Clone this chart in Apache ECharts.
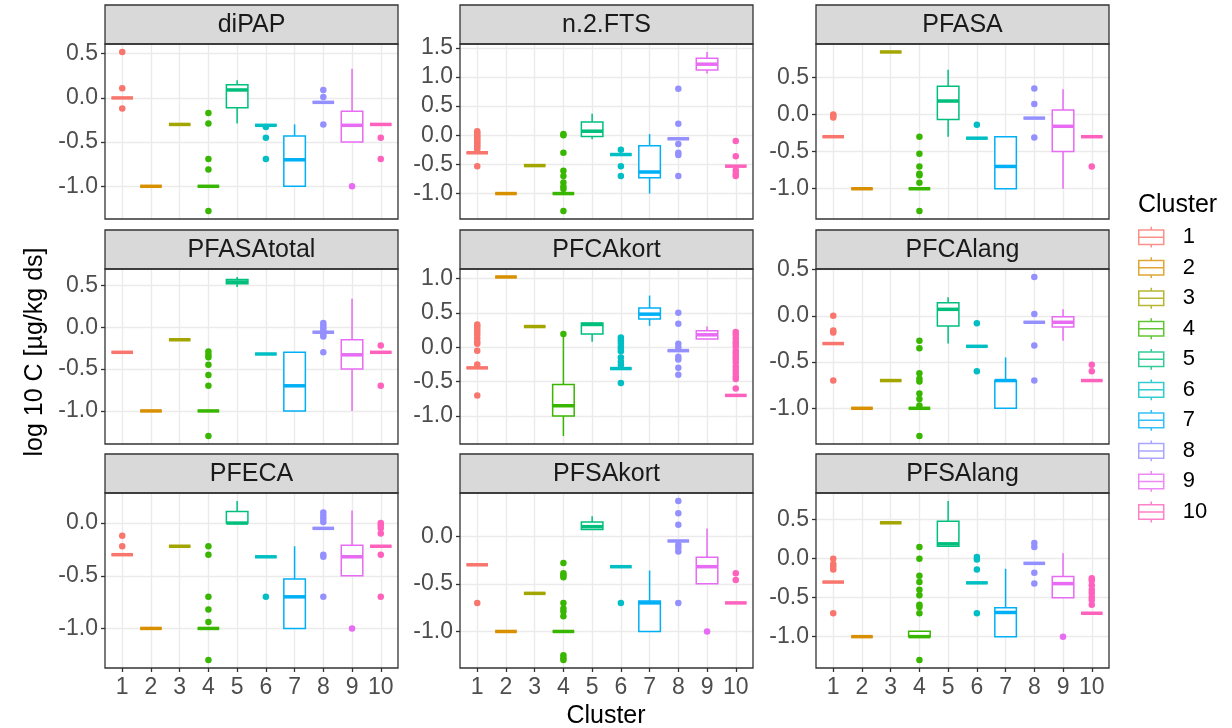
<!DOCTYPE html>
<html><head><meta charset="utf-8">
<script src="https://cdn.jsdelivr.net/npm/echarts@6/dist/echarts.min.js"></script>
<style>html,body{margin:0;padding:0;background:#fff}#c{width:1232px;height:728px}</style>
</head><body><div id="c"></div>
<script>
const CLUSTERS = ['1','2','3','4','5','6','7','8','9','10'];
const COLORS = ['#F8766D','#D89000','#A3A500','#39B600','#00BF7D','#00BFC4','#00B0F6','#9590FF','#E76BF3','#FF62BC'];
const X_TICKS = [1,2,3,4,5,6,7,8,9,10];
const PANEL_NAMES = ['diPAP','n.2.FTS','PFASA','PFASAtotal','PFCAkort','PFCAlang','PFECA','PFSAkort','PFSAlang'];
const X_TITLE = 'Cluster';
const Y_TITLE = 'log 10 C [µg/kg ds]';
const LEGEND_TITLE = 'Cluster';

// boxes: [cluster, lower whisker, Q1, median, Q3, upper whisker]; outliers: [cluster, value]
const diPAP_box = [
 [1,0,0,0,0,0],[2,-1,-1,-1,-1,-1],[3,-0.3,-0.3,-0.3,-0.3,-0.3],[4,-1,-1,-1,-1,-1],
 [5,-0.29,-0.11,0.09,0.15,0.2],[6,-0.31,-0.31,-0.31,-0.31,-0.31],[7,-1,-1,-0.7,-0.43,-0.3],
 [8,-0.05,-0.05,-0.05,-0.05,-0.05],[9,-0.5,-0.5,-0.31,-0.15,0.33],[10,-0.3,-0.3,-0.3,-0.3,-0.3]];
const diPAP_out = [[1,0.52],[1,0.11],[1,-0.12],[4,-0.17],[4,-0.29],[4,-0.69],[4,-0.81],[4,-1.28],
 [6,-0.33],[6,-0.45],[6,-0.69],[8,0.09],[8,0.01],[8,-0.3],[9,-1],[10,-0.45],[10,-0.69]];

const n2FTS_box = [
 [1,-0.3,-0.3,-0.3,-0.3,-0.3],[2,-1,-1,-1,-1,-1],[3,-0.52,-0.52,-0.52,-0.52,-0.52],[4,-1,-1,-1,-1,-1],
 [5,-0.07,-0.02,0.07,0.23,0.37],[6,-0.33,-0.33,-0.33,-0.33,-0.33],[7,-1,-0.73,-0.63,-0.18,0.02],
 [8,-0.06,-0.06,-0.06,-0.06,-0.06],[9,1.06,1.12,1.22,1.32,1.43],[10,-0.53,-0.53,-0.53,-0.53,-0.53]];
const n2FTS_out = [[1,0.07],[1,0.04],[1,0.01],[1,-0.02],[1,-0.05],[1,-0.08],[1,-0.11],[1,-0.14],[1,-0.17],[1,-0.2],[1,-0.24],[1,-0.53],
 [4,0.02],[4,0],[4,-0.3],[4,-0.61],[4,-0.7],[4,-0.81],[4,-0.88],[4,-0.92],[4,-1.3],
 [6,-0.25],[6,-0.53],[6,-0.7],[8,0.8],[8,0.2],[8,-0.15],[8,-0.3],[8,-0.34],[8,-0.7],
 [10,-0.1],[10,-0.36],[10,-0.6],[10,-0.66],[10,-0.7]];

const PFASA_box = [
 [1,-0.3,-0.3,-0.3,-0.3,-0.3],[2,-1,-1,-1,-1,-1],[3,0.84,0.84,0.84,0.84,0.84],[4,-1,-1,-1,-1,-1],
 [5,-0.3,-0.07,0.18,0.38,0.6],[6,-0.32,-0.32,-0.32,-0.32,-0.32],[7,-1,-1,-0.7,-0.3,-0.3],
 [8,-0.05,-0.05,-0.05,-0.05,-0.05],[9,-1,-0.5,-0.16,0.06,0.34],[10,-0.3,-0.3,-0.3,-0.3,-0.3]];
const PFASA_out = [[1,0],[1,-0.02],[1,-0.04],[4,-0.3],[4,-0.53],[4,-0.7],[4,-0.8],[4,-0.82],[4,-0.92],[4,-1.3],
 [6,-0.14],[8,0.35],[8,0.14],[8,-0.31],[10,-0.7]];

const PFASAtotal_box = [
 [1,-0.3,-0.3,-0.3,-0.3,-0.3],[2,-1,-1,-1,-1,-1],[3,-0.15,-0.15,-0.15,-0.15,-0.15],[4,-1,-1,-1,-1,-1],
 [5,0.48,0.52,0.54,0.57,0.6],[6,-0.32,-0.32,-0.32,-0.32,-0.32],[7,-1,-1,-0.7,-0.3,-0.3],
 [8,-0.06,-0.06,-0.06,-0.06,-0.06],[9,-1,-0.5,-0.33,-0.15,0.34],[10,-0.3,-0.3,-0.3,-0.3,-0.3]];
const PFASAtotal_out = [[4,-0.29],[4,-0.33],[4,-0.36],[4,-0.45],[4,-0.57],[4,-0.7],[4,-1.3],
 [8,0.05],[8,0.02],[8,-0.01],[8,-0.04],[8,-0.09],[8,-0.11],[8,-0.3],[10,-0.22],[10,-0.7]];

const PFCAkort_box = [
 [1,-0.3,-0.3,-0.3,-0.3,-0.3],[2,1.02,1.02,1.02,1.02,1.02],[3,0.3,0.3,0.3,0.3,0.3],[4,-1.29,-1,-0.85,-0.54,0.18],
 [5,0.08,0.19,0.33,0.35,0.36],[6,-0.31,-0.31,-0.31,-0.31,-0.31],[7,0.31,0.41,0.48,0.57,0.75],
 [8,-0.05,-0.05,-0.05,-0.05,-0.05],[9,0.12,0.12,0.18,0.24,0.3],[10,-0.7,-0.7,-0.7,-0.7,-0.7]];
const PFCAkort_out = [[1,0.33],[1,0.3],[1,0.26],[1,0.22],[1,0.18],[1,0.13],[1,0.08],[1,0.05],[1,-0.05],[1,-0.25],[1,-0.7],
 [4,0.19],[6,0.14],[6,0.1],[6,0.06],[6,0.01],[6,-0.02],[6,-0.06],[6,-0.15],[6,-0.21],[6,-0.26],[6,-0.52],
 [8,0.5],[8,0.34],[8,0.05],[8,0],[8,-0.14],[8,-0.18],[8,-0.3],[8,-0.4],
 [10,0.22],[10,0.18],[10,0.13],[10,0.08],[10,0.05],[10,0.01],[10,-0.05],[10,-0.09],[10,-0.14],[10,-0.17],
 [10,-0.22],[10,-0.28],[10,-0.33],[10,-0.38],[10,-0.43],[10,-0.46],[10,-0.6]];

const PFCAlang_box = [
 [1,-0.3,-0.3,-0.3,-0.3,-0.3],[2,-1,-1,-1,-1,-1],[3,-0.7,-0.7,-0.7,-0.7,-0.7],[4,-1,-1,-1,-1,-1],
 [5,-0.3,-0.11,0.07,0.14,0.2],[6,-0.33,-0.33,-0.33,-0.33,-0.33],[7,-1,-1,-0.7,-0.7,-0.45],
 [8,-0.07,-0.07,-0.07,-0.07,-0.07],[9,-0.27,-0.12,-0.07,-0.01,0.07],[10,-0.7,-0.7,-0.7,-0.7,-0.7]];
const PFCAlang_out = [[1,0],[1,-0.16],[1,-0.18],[1,-0.7],
 [4,-0.27],[4,-0.35],[4,-0.62],[4,-0.68],[4,-0.71],[4,-0.84],[4,-0.9],[4,-0.97],[4,-1.3],
 [6,-0.08],[6,-0.6],[8,0.42],[8,0.02],[8,-0.32],[8,-0.7],[10,-0.53],[10,-0.6]];

const PFECA_box = [
 [1,-0.3,-0.3,-0.3,-0.3,-0.3],[2,-1,-1,-1,-1,-1],[3,-0.22,-0.22,-0.22,-0.22,-0.22],[4,-1,-1,-1,-1,-1],
 [5,0,0,0,0.11,0.21],[6,-0.32,-0.32,-0.32,-0.32,-0.32],[7,-1,-1,-0.7,-0.53,-0.22],
 [8,-0.05,-0.05,-0.05,-0.05,-0.05],[9,-0.5,-0.5,-0.32,-0.21,0.12],[10,-0.22,-0.22,-0.22,-0.22,-0.22]];
const PFECA_out = [[1,-0.12],[1,-0.22],[4,-0.22],[4,-0.3],[4,-0.7],[4,-0.82],[4,-0.94],[4,-1.3],
 [6,-0.7],[8,0.1],[8,0.07],[8,0.04],[8,0.01],[8,-0.3],[8,-0.32],[8,-0.7],[9,-1],
 [10,0],[10,-0.02],[10,-0.05],[10,-0.1],[10,-0.3],[10,-0.7]];

const PFSAkort_box = [
 [1,-0.3,-0.3,-0.3,-0.3,-0.3],[2,-1,-1,-1,-1,-1],[3,-0.6,-0.6,-0.6,-0.6,-0.6],[4,-1,-1,-1,-1,-1],
 [5,0.07,0.07,0.1,0.15,0.21],[6,-0.32,-0.32,-0.32,-0.32,-0.32],[7,-1,-1,-0.7,-0.68,-0.36],
 [8,-0.05,-0.05,-0.05,-0.05,-0.05],[9,-0.5,-0.5,-0.32,-0.22,0.08],[10,-0.7,-0.7,-0.7,-0.7,-0.7]];
const PFSAkort_out = [[1,-0.7],[4,-0.28],[4,-0.39],[4,-0.41],[4,-0.43],[4,-0.7],[4,-0.76],[4,-0.79],[4,-0.84],
 [4,-1.25],[4,-1.28],[4,-1.3],[6,-0.7],[8,0.37],[8,0.24],[8,0.12],[8,-0.09],[8,-0.12],[8,-0.16],[8,-0.7],
 [9,-1],[10,-0.39],[10,-0.46]];

const PFSAlang_box = [
 [1,-0.3,-0.3,-0.3,-0.3,-0.3],[2,-1,-1,-1,-1,-1],[3,0.46,0.46,0.46,0.46,0.46],[4,-1,-1,-1,-0.93,-0.93],
 [5,0.16,0.16,0.19,0.48,0.74],[6,-0.31,-0.31,-0.31,-0.31,-0.31],[7,-1,-1,-0.69,-0.63,-0.13],
 [8,-0.06,-0.06,-0.06,-0.06,-0.06],[9,-0.5,-0.5,-0.32,-0.23,0.07],[10,-0.7,-0.7,-0.7,-0.7,-0.7]];
const PFSAlang_out = [[1,0],[1,-0.07],[1,-0.1],[1,-0.14],[1,-0.7],
 [4,0.15],[4,0],[4,-0.22],[4,-0.3],[4,-0.4],[4,-0.47],[4,-0.59],[4,-0.62],[4,-0.7],[4,-1.3],
 [6,0.02],[6,-0.01],[6,-0.14],[6,-0.7],[8,0.2],[8,0.15],[8,-0.18],[8,-0.32],[9,-1],
 [10,-0.25],[10,-0.28],[10,-0.34],[10,-0.4],[10,-0.44],[10,-0.49],[10,-0.53],[10,-0.59]];

const BOXES = [diPAP_box, n2FTS_box, PFASA_box, PFASAtotal_box, PFCAkort_box, PFCAlang_box, PFECA_box, PFSAkort_box, PFSAlang_box];
const OUTLIERS = [diPAP_out, n2FTS_out, PFASA_out, PFASAtotal_out, PFCAkort_out, PFCAlang_out, PFECA_out, PFSAkort_out, PFSAlang_out];

// ---- layout / style ----
const FONT = '"Liberation Sans", Arial, sans-serif';
const COL_LEFT = [105, 460, 816];
const ROW_TOP = [44, 269, 493];
const PW = 293, PH = 175, SH = 39;
const BORDER = '#333333';
const TICK_FS = 23;

const grids = [], xAxes = [], yAxes = [], series = [], graphics = [];

PANEL_NAMES.forEach((name, i) => {
  const r = Math.floor(i / 3), c = i % 3;
  const box = BOXES[i], out = OUTLIERS[i];
  const vals = [];
  box.forEach(b => vals.push(...b.slice(1)));
  out.forEach(o => vals.push(o[1]));
  const lo = Math.min(...vals), hi = Math.max(...vals), pad = (hi - lo) * 0.05;
  const ymin = lo - pad, ymax = hi + pad;
  const yt = [];
  for (let k = Math.ceil(ymin / 0.5 - 1e-9); k <= Math.floor(ymax / 0.5 + 1e-9); k++) yt.push(k * 0.5);

  const left = COL_LEFT[c], top = ROW_TOP[r];
  grids.push({left, top, width: PW, height: PH, containLabel: false, outerBoundsMode: 'none'});
  xAxes.push({
    type: 'value', gridIndex: i, min: 0.4, max: 10.6, position: 'bottom',
    axisLine: {show: false, onZero: false},
    axisTick: {show: r === 2, customValues: X_TICKS, length: 4, lineStyle: {color: BORDER, width: 1.3}},
    axisLabel: {show: r === 2, customValues: X_TICKS, margin: 8, fontSize: TICK_FS, color: '#4D4D4D', fontFamily: FONT},
    splitLine: {show: true, lineStyle: {color: '#EBEBEB', width: 1.4}}
  });
  yAxes.push({
    type: 'value', gridIndex: i, min: ymin, max: ymax, position: 'left',
    axisLine: {show: false, onZero: false},
    axisTick: {show: true, customValues: yt, length: 4, lineStyle: {color: BORDER, width: 1.3}},
    axisLabel: {customValues: yt, margin: 7, fontSize: TICK_FS, color: '#4D4D4D', fontFamily: FONT,
      formatter: v => (Math.abs(v) < 1e-9 ? 0 : v).toFixed(1)},
    splitLine: {show: true, lineStyle: {color: '#EBEBEB', width: 1.4}}
  });

  series.push({
    type: 'scatter', xAxisIndex: i, yAxisIndex: i, data: out, symbolSize: 6.5, z: 2,
    itemStyle: {color: p => COLORS[p.value[0] - 1], opacity: 1}, silent: true
  });
  series.push({
    type: 'custom', xAxisIndex: i, yAxisIndex: i, data: box, z: 3, clip: false, silent: true,
    encode: {x: 0, y: [1, 2, 3, 4, 5]},
    renderItem: (params, api) => {
      const x = api.value(0);
      const col = COLORS[x - 1];
      const pMin = api.coord([x, api.value(1)]);
      const pQ1 = api.coord([x, api.value(2)]);
      const pMed = api.coord([x, api.value(3)]);
      const pQ3 = api.coord([x, api.value(4)]);
      const pMax = api.coord([x, api.value(5)]);
      const hw = api.size([0.75, 0])[0] / 2;
      const cx = pMed[0];
      return {type: 'group', children: [
        {type: 'line', shape: {x1: cx, y1: pMax[1], x2: cx, y2: pQ3[1]}, style: {stroke: col, lineWidth: 1.5}},
        {type: 'line', shape: {x1: cx, y1: pQ1[1], x2: cx, y2: pMin[1]}, style: {stroke: col, lineWidth: 1.5}},
        {type: 'rect', shape: {x: cx - hw, y: pQ3[1], width: 2 * hw, height: pQ1[1] - pQ3[1]},
          style: {stroke: col, lineWidth: 1.5, fill: '#fff'}},
        {type: 'line', shape: {x1: cx - hw, y1: pMed[1], x2: cx + hw, y2: pMed[1]}, style: {stroke: col, lineWidth: 3.5}}
      ]};
    }
  });

  // strip + border
  graphics.push({type: 'rect', z: 100, silent: true, shape: {x: left, y: top - SH, width: PW, height: SH},
    style: {fill: '#D9D9D9', stroke: BORDER, lineWidth: 1.3}});
  graphics.push({type: 'text', z: 101, silent: true, x: left + PW / 2, y: top - SH / 2 + 1,
    style: {text: name, fill: '#1A1A1A', font: '25px ' + FONT, align: 'center', verticalAlign: 'middle'}});
  graphics.push({type: 'rect', z: 100, silent: true, shape: {x: left, y: top, width: PW, height: PH},
    style: {fill: 'none', stroke: BORDER, lineWidth: 1.3}});
});

// legend dummy series
CLUSTERS.forEach((n, k) => series.push({type: 'scatter', name: n, data: [], xAxisIndex: 0, yAxisIndex: 0, itemStyle: {color: COLORS[k]}}));

graphics.push({type: 'text', silent: true, x: 606, y: 716,
  style: {text: X_TITLE, fill: '#000', font: '25px ' + FONT, align: 'center', verticalAlign: 'middle'}});
graphics.push({type: 'text', silent: true, x: 35, y: 352, rotation: Math.PI / 2,
  style: {text: Y_TITLE, fill: '#000', font: '25px ' + FONT, align: 'center', verticalAlign: 'middle'}});
graphics.push({type: 'text', silent: true, x: 1138, y: 205,
  style: {text: LEGEND_TITLE, fill: '#000', font: '25px ' + FONT, align: 'left', verticalAlign: 'middle'}});

const LEGEND_ICON = 'path://M12,0V3M0,3H24V17H0ZM0,10H24M12,17V20';

const chart = echarts.init(document.getElementById('c'), null, {renderer: 'canvas'});
chart.setOption({
  animation: false,
  backgroundColor: '#fff',
  grid: grids, xAxis: xAxes, yAxis: yAxes, series,
  graphic: {elements: graphics},
  legend: {
    orient: 'vertical', left: 1138, top: 226, padding: 0, itemWidth: 25, itemHeight: 21, itemGap: 8.2,
    selectedMode: false,
    textStyle: {fontSize: 22, color: '#000', fontFamily: FONT, padding: [0, 0, 0, 14], lineHeight: 21},
    data: CLUSTERS.map((n, k) => ({name: n, icon: LEGEND_ICON,
      itemStyle: {color: '#fff', borderColor: COLORS[k], borderWidth: 1.5}}))
  }
});
</script></body></html>
